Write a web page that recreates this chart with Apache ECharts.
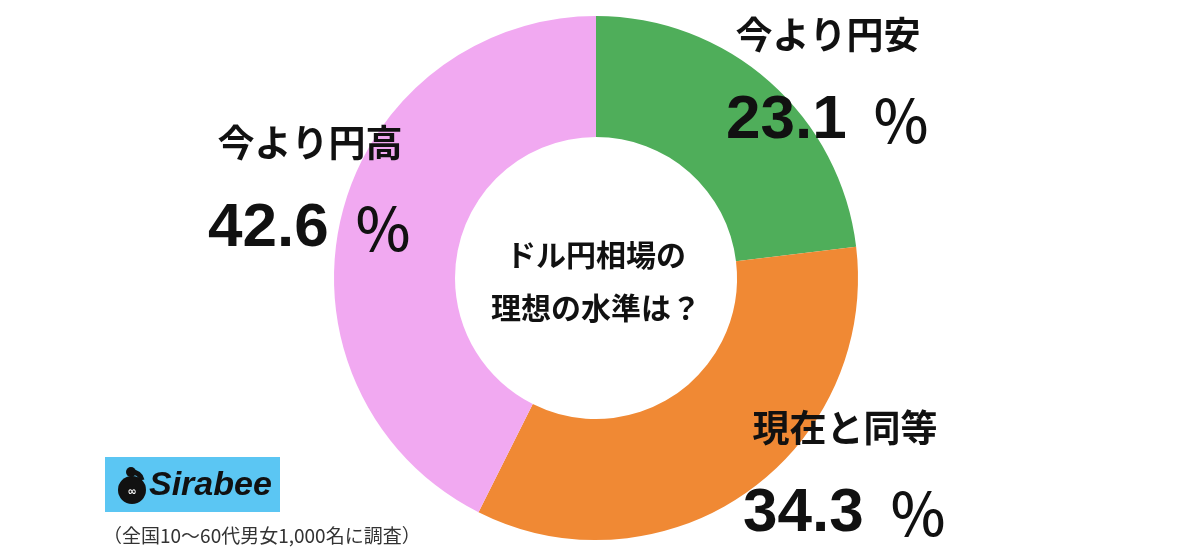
<!DOCTYPE html>
<html>
<head>
<meta charset="utf-8">
<script src="https://cdn.jsdelivr.net/npm/echarts@6/dist/echarts.min.js"></script>
<style>
html,body{margin:0;padding:0;background:#fff;}
#c{width:1200px;height:556px;}
</style>
</head>
<body>
<div id="c"></div>
<script>
const categories = ['今より円安', '現在と同等', '今より円高'];
const values = [23.1, 34.3, 42.6];
const colors = ['#4FAE5A', '#F08934', '#F1A9F1'];
const centerTitle = 'ドル円相場の\n理想の水準は？';
const footnote = '（全国10〜60代男女1,000名に調査）';
const brand = 'Sirabee';

const labelPos = [
  {x: 828, y: -7},
  {x: 845, y: 386},
  {x: 310, y: 101}
];

const chart = echarts.init(document.getElementById('c'));
chart.setOption({
  backgroundColor: '#ffffff',
  animation: false,
  series: [{
    type: 'pie',
    center: [596, 278],
    radius: [141, 262],
    startAngle: 90,
    clockwise: true,
    silent: true,
    data: categories.map((n, i) => ({name: n, value: values[i], itemStyle: {color: colors[i]}})),
    label: {
      show: true,
      position: 'outside',
      formatter: p => '{n|' + p.name + '}\n{v|' + p.value.toFixed(1) + ' }{p|％}',
      rich: {
        n: {fontFamily: '"Noto Sans CJK JP"', fontWeight: 'bold', fontSize: 37, lineHeight: 84, color: '#111', align: 'center'},
        v: {fontFamily: '"Liberation Sans", Arial', fontWeight: 'bold', fontSize: 62, lineHeight: 88, color: '#111'},
        p: {fontFamily: '"Noto Sans CJK JP"', fontWeight: 500, fontSize: 58, lineHeight: 88, color: '#111', padding: [0, 0, 0, 8]}
      }
    },
    labelLine: {show: false},
    labelLayout: function (params) {
      const pos = labelPos[params.dataIndex];
      return {x: pos.x, y: pos.y, align: 'center', verticalAlign: 'top'};
    }
  }],
  graphic: [
    {
      type: 'text', x: 596, y: 281,
      style: {text: centerTitle, align: 'center', verticalAlign: 'middle',
        font: 'bold 30px "Noto Sans CJK JP"', lineHeight: 53, fill: '#111'}
    },
    {type: 'rect', shape: {x: 105, y: 457, width: 175, height: 55}, style: {fill: '#5BC6F3'}},
    {type: 'circle', shape: {cx: 132, cy: 490, r: 14}, style: {fill: '#111'}},
    {type: 'circle', shape: {cx: 131, cy: 472, r: 5}, style: {fill: '#111'}},
    {type: 'bezierCurve', shape: {x1: 131, y1: 472, x2: 142, y2: 480, cpx1: 140, cpy1: 472}, style: {stroke: '#111', lineWidth: 5, fill: null}},
    {type: 'text', x: 132, y: 492, style: {text: '∞', align: 'center', verticalAlign: 'middle', font: 'bold 11px "DejaVu Sans"', fill: '#fff'}},
    {type: 'text', x: 149, y: 486, style: {text: brand, align: 'left', verticalAlign: 'middle', font: 'italic bold 34px "Liberation Sans"', fill: '#111'}},
    {type: 'text', x: 103, y: 536, style: {text: footnote, align: 'left', verticalAlign: 'middle', font: '19px "Noto Sans CJK JP"', fill: '#333'}}
  ]
});
</script>
</body>
</html>
